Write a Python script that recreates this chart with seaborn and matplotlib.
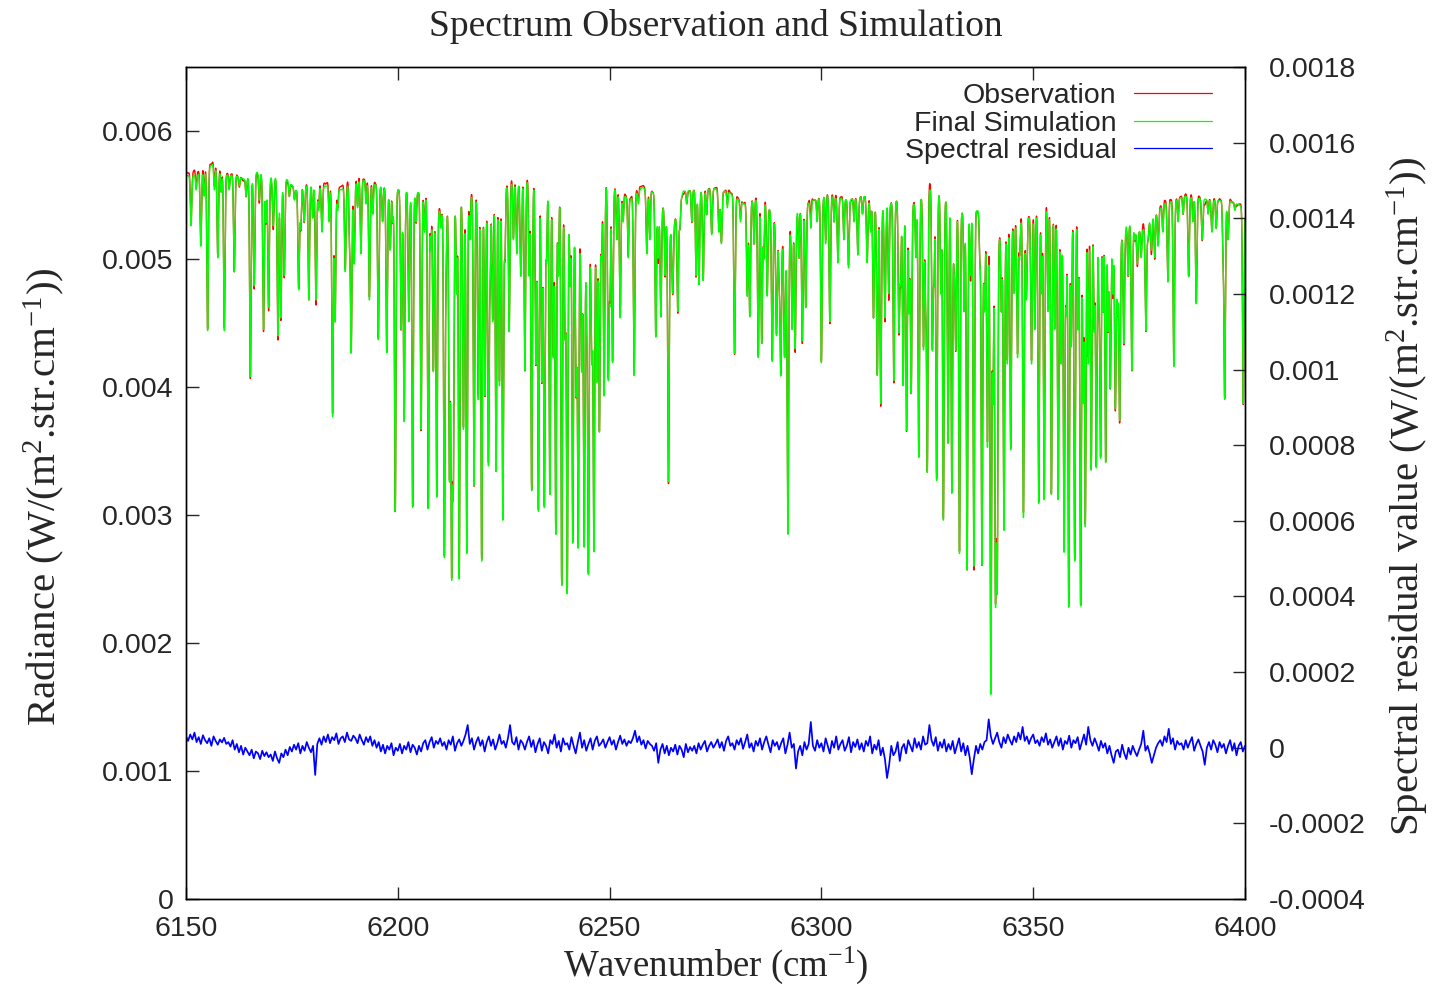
import numpy as np
import pandas as pd
import matplotlib
matplotlib.use("Agg")
import matplotlib.pyplot as plt
import seaborn as sns

# Upper envelope (continuum) of the spectrum, in 1e-3 W/(m^2.str.cm^-1)
cont_wn = [6150, 6153, 6156.3, 6159, 6161.8, 6164, 6166.5, 6170, 6173.6, 6176,
           6179, 6181.5, 6183.8, 6186.6, 6188.5, 6190.9, 6193, 6195.6, 6198, 6200.4,
           6204.3, 6207, 6209.8, 6212.3, 6215, 6217, 6220, 6222.6, 6225, 6227.3,
           6230.8, 6233, 6235.1, 6238.3, 6240.5, 6242.2, 6245.4, 6247.3, 6248.9, 6251.7,
           6254.8, 6257.6, 6260.3, 6262.7, 6264.6, 6267.4, 6271.3, 6274.6, 6278.2, 6281.7,
           6286.4, 6289.2, 6291.6, 6293.5, 6295.1, 6298.2, 6301.4, 6306.1, 6310.1, 6314,
           6318.7, 6321.9, 6325.8, 6329.7, 6333.7, 6337.2, 6341.7, 6344.8, 6348.8, 6353.5,
           6356.6, 6360.6, 6363.7, 6366.9, 6370, 6372.4, 6375.5, 6378.7, 6381.0, 6385.8,
           6392.1, 6396.8, 6400]
cont_val = [5.65, 5.66, 5.74, 5.66, 5.65, 5.62, 5.68, 5.64, 5.63, 5.54,
            5.58, 5.57, 5.57, 5.54, 5.58, 5.63, 5.60, 5.57, 5.56, 5.54,
            5.53, 5.48, 5.38, 5.40, 5.46, 5.49, 5.50, 5.52, 5.55, 5.60,
            5.61, 5.57, 5.54, 5.50, 5.40, 5.29, 5.12, 5.49, 5.60, 5.54,
            5.46, 5.56, 5.52, 5.40, 5.20, 5.53, 5.54, 5.55, 5.52, 5.43,
            5.49, 5.28, 5.07, 5.35, 5.40, 5.46, 5.50, 5.46, 5.49, 5.40,
            5.47, 5.43, 5.55, 5.46, 5.35, 5.38, 5.15, 5.29, 5.32, 5.42,
            5.29, 5.35, 5.29, 5.42, 5.10, 5.29, 5.21, 5.35, 5.43, 5.49,
            5.46, 5.45, 5.40]

# Strong absorption lines: centre wavenumber (cm^-1) and radiance at the line bottom (1e-3 units)
line_wn = [6151.2, 6153.5, 6155.1, 6157.5, 6159.05, 6161.4, 6165.2, 6166.1, 6168.3, 6169.5,
           6170.6, 6171.7, 6172.4, 6173.2, 6176.6, 6177.9, 6179.0, 6180.7, 6182.1, 6184.6,
           6185.2, 6187.6, 6189.0, 6189.7, 6191.3, 6193.3, 6195.4, 6197.4, 6198.2, 6199.4,
           6200.8, 6201.5, 6202.6, 6203.5, 6205.5, 6207.2, 6208.4, 6209.2, 6211.0, 6212.2,
           6212.7, 6213.1, 6214.5, 6215.5, 6216.3, 6218.0, 6219.0, 6219.8, 6220.6, 6221.4,
           6222.4, 6223.2, 6224.0, 6224.8, 6226.3, 6228.1, 6229.0, 6230.0, 6231.6, 6232.6,
           6233.2, 6234.0, 6234.6, 6235.9, 6236.7, 6237.3, 6238.7, 6239.5, 6240.0, 6241.3,
           6242.1, 6242.6, 6243.4, 6244.0, 6245.0, 6245.8, 6246.3, 6247.0, 6247.6, 6248.7,
           6249.7, 6250.7, 6252.5, 6255.8, 6258.8, 6260.9, 6262.1, 6263.9, 6264.9, 6266.1,
           6271.1, 6272.1, 6274.1, 6275.8, 6276.4, 6279.5, 6282.5, 6283.1, 6285.1, 6285.9,
           6287.2, 6288.4, 6289.4, 6290.4, 6291.3, 6292.1, 6293.1, 6293.8, 6295.5, 6296.3,
           6300.0, 6302.0, 6303.9, 6306.4, 6308.6, 6310.8, 6312.3, 6313.2, 6314.0, 6315.0,
           6317.1, 6318.3, 6319.3, 6320.1, 6321.2, 6323.0, 6324.1, 6325.0, 6326.2, 6327.2,
           6328.8, 6329.9, 6330.8, 6331.7, 6332.6, 6334.4, 6336.0, 6337.9, 6338.5, 6339.2,
           6340.0, 6341.1, 6341.5, 6343.1, 6344.7, 6346.3, 6347.7, 6348.4, 6349.6, 6351.3,
           6352.6, 6354.3, 6355.9, 6357.3, 6358.4, 6359.8, 6361.2, 6362.3, 6363.7, 6364.9,
           6365.9, 6367.1, 6368.2, 6369.4, 6370.4, 6371.4, 6373.3, 6374.6, 6376.6, 6377.9,
           6379.5, 6381.8, 6383.2, 6386.7, 6388.5, 6389.9, 6392.2, 6395.2, 6396.0, 6399.6]
line_min = [5.26, 5.10, 4.44, 5.01, 4.44, 4.90, 4.08, 4.79, 4.45, 4.62,
            5.26, 4.40, 4.54, 4.87, 4.76, 5.29, 4.68, 4.68, 5.21, 3.77,
            4.51, 4.90, 4.27, 4.96, 5.04, 4.68, 4.37, 4.27, 5.07, 3.03,
            4.45, 3.73, 4.51, 3.06, 3.67, 3.05, 4.12, 3.14, 2.67, 3.28,
            2.57, 3.23, 2.50, 3.67, 2.70, 3.23, 3.90, 2.64, 3.93, 3.39,
            4.51, 3.34, 4.01, 2.96, 4.43, 5.04, 5.00, 4.13, 3.19, 4.18,
            3.03, 4.04, 3.06, 3.16, 4.23, 2.85, 2.45, 4.40, 2.39, 2.78,
            3.95, 2.75, 4.12, 2.75, 2.54, 4.20, 2.72, 4.04, 3.65, 3.93,
            4.06, 4.19, 4.54, 4.09, 5.04, 4.39, 4.55, 3.26, 4.73, 4.59,
            4.80, 4.83, 5.19, 5.21, 5.12, 4.26, 4.71, 4.55, 4.23, 4.34,
            4.71, 4.20, 4.40, 4.09, 4.23, 2.85, 4.45, 4.30, 4.36, 4.62,
            4.19, 4.51, 4.97, 4.93, 5.03, 4.97, 4.54, 4.09, 3.87, 4.54,
            4.05, 4.43, 4.01, 3.66, 3.95, 3.45, 4.29, 3.34, 4.29, 3.27,
            2.96, 3.56, 3.17, 4.29, 2.70, 2.57, 2.60, 2.61, 4.59, 3.53,
            1.60, 2.36, 2.47, 2.88, 3.51, 4.23, 2.98, 4.68, 4.18, 3.09,
            3.12, 3.16, 3.12, 2.71, 2.28, 2.64, 2.29, 2.91, 3.35, 3.37,
            3.45, 3.41, 3.99, 3.83, 3.74, 4.34, 4.13, 4.96, 4.44, 5.07,
            5.10, 4.82, 4.16, 4.86, 4.65, 5.15, 5.21, 3.91, 5.15, 3.87]

# Weaker lines that roughen the top of the spectrum (same units)
weak_wn = [6152.4, 6154.3, 6156.7, 6158.3, 6160.2, 6162.6, 6164.2, 6167.3, 6168.9, 6174.4,
           6175.6, 6177.1, 6179.9, 6181.3, 6183.8, 6185.8, 6188.6, 6190.5, 6192.5, 6194.1,
           6196.4, 6198.8, 6204.3, 6206.3, 6207.8, 6210.2, 6211.4,
           6213.9, 6217.0, 6221.8, 6225.3, 6227.3, 6229.2, 6231.0, 6235.1, 6237.9, 6240.7,
           6244.6, 6248.1, 6250.1, 6251.7, 6253.2, 6254.4, 6256.8, 6259.5, 6261.5, 6263.1,
           6266.6, 6268.2, 6269.4, 6270.4, 6272.9,
           6277.8, 6280.9, 6284.1, 6286.4, 6290.0, 6294.7, 6297.5, 6299.0, 6301.0, 6303.0,
           6305.3, 6307.7, 6309.7, 6311.6, 6315.9, 6318.7, 6320.7, 6322.3, 6324.6, 6326.6,
           6328.2, 6331.3, 6333.7, 6335.2,
           6337.4, 6340.5, 6342.5, 6343.9, 6345.5, 6346.8, 6350.4, 6352.0, 6353.5, 6355.1,
           6356.6, 6357.8, 6359.0, 6360.6, 6361.8, 6363.0, 6364.4, 6365.5, 6366.5, 6367.7,
           6368.8, 6369.9, 6372.4, 6374.0, 6375.5, 6377.1, 6378.7, 6380.6, 6384.2, 6385.4,
           6387.7, 6391.3, 6393.2, 6394.8, 6397.6]
weak_min = [5.54, 5.49, 5.54, 5.52, 5.54, 5.57, 5.49, 5.46, 5.29, 5.49,
            5.46, 5.24, 5.32, 5.38, 5.29, 5.38, 5.15, 5.40, 5.43, 5.35,
            5.29, 5.29, 5.29, 5.21, 5.07, 5.24, 5.01,
            4.73, 5.15, 4.87, 5.01, 5.15, 5.29, 4.87, 5.01, 4.87, 4.79,
            4.59, 5.01, 4.73, 5.15, 5.29, 5.01, 5.43, 5.15, 5.01, 4.87,
            5.24, 5.43, 5.29, 4.87, 5.35,
            5.40, 5.29, 5.12, 5.01, 4.87, 5.01, 5.24, 5.29, 5.12, 5.29,
            5.15, 5.29, 5.35, 5.21, 4.73, 4.87, 4.59, 5.01, 4.73, 4.87,
            4.73, 5.01, 4.59, 4.87,
            5.01, 3.90, 4.59, 4.18, 4.73, 5.01, 4.45, 4.73, 4.59, 4.45,
            4.18, 4.59, 4.32, 4.45, 3.90, 4.18, 4.45, 4.73, 4.59, 4.45,
            4.73, 4.59, 4.87, 5.15, 5.01, 5.15, 5.01, 5.21, 5.29, 5.35,
            5.29, 5.35, 5.24, 5.12, 5.38]

# Spectral residual (observation - simulation) in 1e-6 W/(m^2.str.cm^-1),
# every 0.5 cm^-1 from 6150 to 6400
residual = [
    30, 18, 35, 22, 40, 15, 28, 10, 33, 20,
    12, 25, 5, 30, 18, 8, 22, 14, 26, 10,
    15, 3, 20, -5, 10, -12, 5, -18, 0, -10,
    -20, -5, -28, -10, -15, -30, -8, -22, -12, -25,
    -18, -35, -10, -28, -40, -15, -25, -5, -20, 2,
    -10, 8, -5, 12, -15, 5, -8, 15, 0, -12,
    5, -72, 10, 25, 8, 30, 15, 35, 12, 28,
    20, 38, 10, 25, 30, 15, 40, 22, 18, 32,
    25, 12, 35, 20, 8, 28, 15, 30, 5, 20,
    0, 15, -10, 8, -15, 5, -5, 12, -20, 0,
    -8, 10, -15, 5, -5, 15, -12, 8, 0, -18,
    5, -10, 12, 20, -5, 15, 28, 0, 18, 10,
    25, 5, 15, -5, 20, 8, 30, -8, 12, 22,
    5, 18, 35, 60, 10, 25, -5, 15, 28, 5,
    20, -10, 15, 30, 5, 22, -5, 12, 35, 10,
    18, 0, 25, 60, 15, 8, 28, -5, 20, 12,
    -5, 15, 30, 2, 20, -12, 10, 25, -8, 15,
    5, -15, 20, 10, 35, 0, 18, -10, 25, 8,
    12, -5, 28, 5, -15, 15, 40, 0, 20, -8,
    10, 25, -5, 18, 30, 5, 12, 22, 0, 15,
    28, 8, 20, -5, 15, 32, 10, 22, 5, 18,
    12, 25, 45, 15, 30, 8, 20, -2, 18, 10,
    5, -8, 12, -40, -5, 10, -15, 5, -20, 0,
    -10, 8, -18, 5, -5, -25, 10, -12, 2, -8,
    5, -15, 12, -5, 8, 18, -10, 5, 15, 0,
    10, 22, 0, 15, -8, 18, 30, 5, 12, -5,
    20, 8, 25, -3, 15, 35, 0, 12, -10, 18,
    5, 25, -5, 15, 30, 8, -12, 20, 5, 15,
    -5, 12, 25, -15, 8, 40, 0, 10, -55, -10,
    5, -20, 15, -5, 10, 68, 5, -8, 20, 0,
    12, -10, 25, 5, -15, 18, 0, 30, -5, 10,
    20, -8, 5, 28, -12, 15, 2, 22, -5, 12,
    -10, 18, 5, 30, -15, 8, -5, 20, -20, 0,
    -30, -80, -45, 5, -20, -10, 15, -35, 0, 10,
    -15, 20, 5, -10, 25, 0, 15, -5, 30, 8,
    12, 60, 20, 5, 28, -8, 15, 0, 22, -10,
    10, -5, 18, -15, 5, 25, -10, 12, -20, 5,
    -25, -70, -30, 5, -15, 10, -5, 15, 20, 75,
    30, 10, 25, 40, 15, 0, 28, 12, 35, 20,
    8, 30, 15, 40, 22, 55, 18, 30, 10, 25,
    35, 12, 20, 5, 28, 15, 38, 8, 22, 0,
    15, 30, 5, 25, -5, 18, 10, 32, 0, 20,
    12, 28, -5, 15, 35, 8, 55, 20, 5, 25,
    10, -8, 18, 0, 12, -15, 5, -20, -40, -10,
    -5, -25, 8, -15, -30, 0, -18, 5, -10, -22,
    -5, 10, 45, -8, 5, -15, -40, -20, 0, 12,
    20, 5, 30, 15, 50, 10, 25, -5, 18, 8,
    12, -5, 20, 0, 15, 28, -8, 10, 22, 5,
    -10, -45, 0, 15, -5, 20, 8, -12, 15, 0,
    10, -15, 5, 20, -8, 12, -20, 5, 15, -10,
    5]

x_ticks = [6150, 6200, 6250, 6300, 6350, 6400]
left_ticks = [0, 0.001, 0.002, 0.003, 0.004, 0.005, 0.006]
left_labels = ["0", "0.001", "0.002", "0.003", "0.004", "0.005", "0.006"]
right_ticks = [-0.0004, -0.0002, 0, 0.0002, 0.0004, 0.0006, 0.0008,
               0.001, 0.0012, 0.0014, 0.0016, 0.0018]
right_labels = ["-0.0004", "-0.0002", "0", "0.0002", "0.0004", "0.0006", "0.0008",
                "0.001", "0.0012", "0.0014", "0.0016", "0.0018"]

# ---- build the spectra on a fine wavenumber grid ----
wn = np.linspace(6150, 6400, 25001)
cont = np.interp(wn, cont_wn, cont_val)
trans = np.ones_like(wn)
all_wn = line_wn + weak_wn
all_min = line_min + weak_min
for c, m, sigma in zip(all_wn, all_min, [0.17] * len(line_wn) + [0.14] * len(weak_wn)):
    base = np.interp(c, cont_wn, cont_val)
    depth = max(0.0, 1.0 - m / base)
    trans *= 1.0 - depth * np.exp(-0.5 * ((wn - c) / sigma) ** 2)
sim = cont * trans * 1e-3

res_wn = np.linspace(6150, 6400, len(residual))
res = np.asarray(residual, dtype=float) * 1e-6
obs = sim + np.interp(wn, res_wn, res)

spec = pd.DataFrame({"wn": wn, "obs": obs, "sim": sim})
resid_df = pd.DataFrame({"wn": res_wn, "res": res})

# ---- styling ----
sns.set_style("ticks")
plt.rcParams["font.family"] = ["Liberation Sans", "DejaVu Sans"]
plt.rcParams["mathtext.fontset"] = "custom"
plt.rcParams["mathtext.rm"] = "Liberation Serif"
plt.rcParams["mathtext.it"] = "Liberation Serif:italic"
plt.rcParams["axes.linewidth"] = 1.0

SERIF = ["Liberation Serif", "DejaVu Serif"]
TICK_FS = 20.5
YLABEL_FS = 29.5

fig = plt.figure(figsize=(14.37, 9.88), dpi=100)
ax = fig.add_axes([0.12943, 0.09008, 0.73695, 0.84211])
ax2 = ax.twinx()

sns.lineplot(data=spec, x="wn", y="obs", ax=ax, color="#ff0000", linewidth=1.0,
             estimator=None, sort=False, legend=False)
sns.lineplot(data=spec, x="wn", y="sim", ax=ax, color="#00ff00", linewidth=1.0,
             estimator=None, sort=False, legend=False)
sns.lineplot(data=resid_df, x="wn", y="res", ax=ax2, color="#0000ff", linewidth=1.25,
             estimator=None, sort=False, legend=False)

ax.set_xlim(6150, 6400)
ax.set_ylim(0, 0.0065)
ax2.set_ylim(-0.0004, 0.0018)

ax.set_xticks(x_ticks)
ax.set_xticklabels([str(t) for t in x_ticks], fontsize=TICK_FS)
ax.set_yticks(left_ticks)
ax.set_yticklabels(left_labels, fontsize=TICK_FS)
ax2.set_yticks(right_ticks)
ax2.set_yticklabels(right_labels, fontsize=TICK_FS)

ax.tick_params(axis="x", direction="in", top=True, bottom=True, length=9, width=1, pad=12)
ax.tick_params(axis="y", direction="in", left=True, right=False, length=9, width=1, pad=9)
ax2.tick_params(axis="y", direction="in", right=True, left=False, length=9, width=1, pad=17)
for a in (ax, ax2):
    for s in a.spines.values():
        s.set_visible(True)
        s.set_color("black")
        s.set_linewidth(1.0)

ax.set_xlabel("")
ax.set_ylabel("")
ax2.set_ylabel("")

unit = r"(W/(m$^{2}$.str.cm$^{-1}$))"
fig.text(0.0310, 0.497, "Radiance " + unit, rotation=90, ha="center", va="center",
         fontsize=YLABEL_FS, family=SERIF)
fig.text(0.9800, 0.498, "Spectral residual value " + unit, rotation=90, ha="center",
         va="center", fontsize=YLABEL_FS, family=SERIF)
fig.text(0.4979, 0.002, r"Wavenumber (cm$^{-1}$)", ha="center", va="bottom",
         fontsize=26.5, family=SERIF)
fig.text(0.4979, 0.9727, "Spectrum Observation and Simulation", ha="center", va="center",
         fontsize=27, family=SERIF)

handles = [ax.get_lines()[0], ax.get_lines()[1], ax2.get_lines()[0]]
labels = ["Observation", "Final Simulation", "Spectral residual"]
leg = ax2.legend(handles, labels, loc="upper right", bbox_to_anchor=(0.9688, 0.9810),
                 frameon=False, markerfirst=False, fontsize=TICK_FS, borderpad=0,
                 borderaxespad=0, handlelength=2.75, handletextpad=0.6, labelspacing=0.06)
for line in leg.get_lines():
    line.set_linewidth(0.9)

fig.savefig("out.png", dpi=100)
